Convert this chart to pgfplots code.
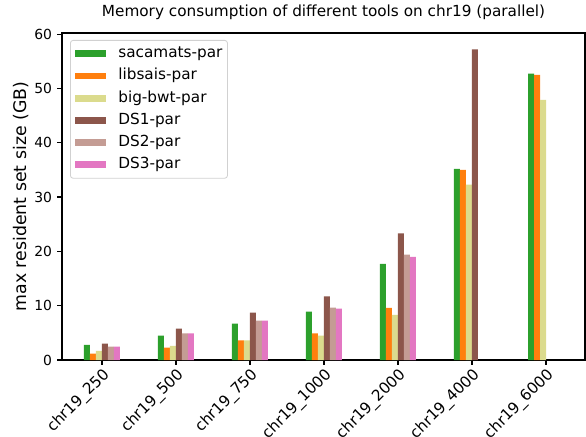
\documentclass[border=0pt]{standalone}
\usepackage{fontspec}
\setmainfont{DejaVu Sans}
\usepackage{pgfplots}
\pgfplotsset{compat=1.18}
\definecolor{cA}{HTML}{2CA02C}
\definecolor{cB}{HTML}{FF7F0E}
\definecolor{cC}{HTML}{DBDB8D}
\definecolor{cD}{HTML}{8C564B}
\definecolor{cE}{HTML}{C49C94}
\definecolor{cF}{HTML}{E377C2}
\begin{document}
\begin{tikzpicture}
\begin{axis}[
  at={(0,0)}, anchor=south west,
  scale only axis, width=376.56pt, height=235.44pt,
  xmin=-0.54, xmax=6.527, ymin=0, ymax=60.2,
  ybar=0pt, bar width=4.32pt,
  xtick={0,1,2,3,4,5,6},
  xticklabels={chr19\_250,chr19\_500,chr19\_750,chr19\_1000,chr19\_2000,chr19\_4000,chr19\_6000},
  x tick label style={rotate=45, anchor=north east, inner sep=0pt, font=\fontsize{11}{13}\selectfont},
  xticklabel shift=1.3pt,
  ytick={0,10,20,30,40,50,60},
  y tick label style={inner sep=0pt, font=\fontsize{10}{12}\selectfont},
  yticklabel shift=3.5pt,
  /pgf/number format/assume math mode=true,
  xtick pos=bottom, ytick pos=left,
  tick align=outside, major tick length=3.5pt,
  tick style={black, line width=0.8pt},
  axis line style={line width=0.8pt},
  ylabel={max resident set size (GB)},
  ylabel style={at={(axis description cs:-0.0688,0.5)}, anchor=base, rotate=0, inner sep=0pt, font=\fontsize{12.5}{15}\selectfont},
  title={Memory consumption of different tools on chr19 (parallel)},
  title style={at={(axis description cs:0.5,1)}, anchor=base, yshift=5.8pt, inner sep=0pt, font=\fontsize{11}{13}\selectfont},
  legend image code/.code={\fill[#1, sharp corners] (0pt,-2.5pt) rectangle (22.3pt,2.5pt);},
  legend cell align=left,
  legend style={at={(0,1)}, anchor=north west, xshift=5.76pt, yshift=-5pt,
    draw=black!18, rounded corners=2pt, fill=white, line width=0.6pt,
    font=\fontsize{11}{13}\selectfont, row sep=5.5pt, column sep=8.6pt,
    inner xsep=3.6pt, inner ysep=4.4pt,
    nodes={inner sep=0pt, text height=8pt, text depth=2.5pt}},
]
\addplot[fill=cA, draw=none] coordinates {(0,2.8) (1,4.5) (2,6.7) (3,8.9) (4,17.7) (5,35.2) (6,52.7)};
\addplot[fill=cB, draw=none] coordinates {(0,1.16) (1,2.3) (2,3.6) (3,4.9) (4,9.6) (5,35.0) (6,52.5)};
\addplot[fill=cC, draw=none] coordinates {(0,1.7) (1,2.6) (2,3.6) (3,4.5) (4,8.3) (5,32.3) (6,47.9)};
\addplot[fill=cD, draw=none] coordinates {(0,3.0) (1,5.8) (2,8.7) (3,11.7) (4,23.3) (5,57.2)};
\addplot[fill=cE, draw=none] coordinates {(0,2.45) (1,4.9) (2,7.25) (3,9.65) (4,19.4)};
\addplot[fill=cF, draw=none] coordinates {(0,2.45) (1,4.9) (2,7.25) (3,9.45) (4,19.0)};
\legend{sacamats-par,libsais-par,big-bwt-par,DS1-par,DS2-par,DS3-par}
\end{axis}
\pgfresetboundingbox
\path[use as bounding box] (-44.64pt,-54.72pt) rectangle (377.28pt,259.2pt);
\end{tikzpicture}
\end{document}
